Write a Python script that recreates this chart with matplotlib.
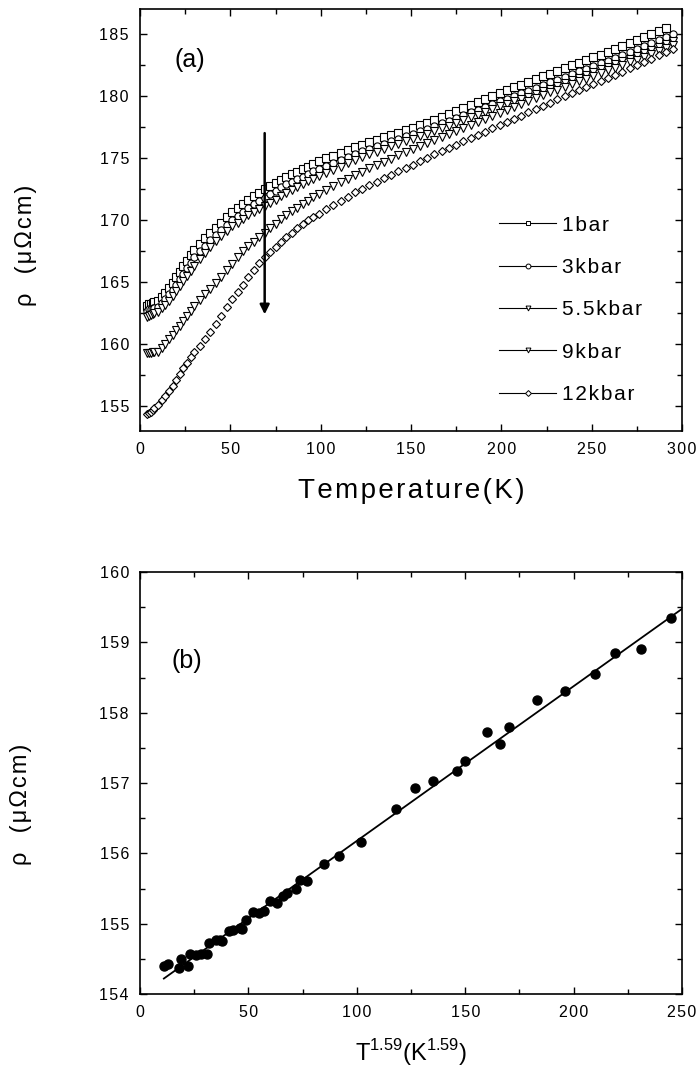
import matplotlib
matplotlib.use('Agg')
import matplotlib.pyplot as plt
from matplotlib.ticker import MultipleLocator, FuncFormatter

plt.rcParams['font.family'] = ['Liberation Sans', 'DejaVu Sans']
plt.rcParams['mathtext.fontset'] = 'custom'
plt.rcParams['mathtext.rm'] = 'Liberation Sans'

# ---- panel (a): resistivity vs temperature at several pressures ----
temps = [4, 5, 6, 7, 8, 10, 12, 14, 16, 18, 20, 22, 24, 26, 28, 30,
         33, 36, 39, 42, 45, 48, 51, 54, 57, 60, 63, 66, 69, 72, 75, 78,
         81, 84, 87, 90, 93, 96, 99, 103, 107, 111, 115, 119, 123, 127,
         131, 135, 139, 143, 147, 151, 155, 159, 163, 167, 171, 175, 179,
         183, 187, 191, 195, 199, 203, 207, 211, 215, 219, 223, 227, 231,
         235, 239, 243, 247, 251, 255, 259, 263, 267, 271, 275, 279, 283,
         287, 291, 295]

rho_1bar = [163.1, 163.2, 163.26, 163.32, 163.38, 163.5, 163.82, 164.14, 164.52,
            164.96, 165.4, 165.84, 166.28, 166.72, 167.16, 167.6, 168.08, 168.54,
            168.96, 169.38, 169.8, 170.22, 170.61, 170.94, 171.27, 171.6, 171.9,
            172.2, 172.5, 172.76, 173.0, 173.24, 173.47, 173.68, 173.89, 174.1,
            174.31, 174.52, 174.73, 174.97, 175.19, 175.4, 175.63, 175.85, 176.05,
            176.25, 176.45, 176.65, 176.85, 177.05, 177.25, 177.45, 177.65, 177.85,
            178.08, 178.32, 178.56, 178.8, 179.04, 179.28, 179.52, 179.76, 180.0,
            180.24, 180.47, 180.69, 180.91, 181.13, 181.35, 181.57, 181.79, 182.0,
            182.22, 182.45, 182.67, 182.89, 183.1, 183.33, 183.55, 183.78, 184.02,
            184.26, 184.5, 184.74, 184.98, 185.2, 185.5]

rho_3kbar = [162.7, 162.8, 162.84, 162.88, 162.92, 163.0, 163.32, 163.64, 164.0,
             164.4, 164.8, 165.24, 165.68, 166.12, 166.56, 167.0, 167.48, 167.94,
             168.36, 168.78, 169.2, 169.62, 170.01, 170.34, 170.67, 171.0, 171.27,
             171.54, 171.81, 172.08, 172.35, 172.62, 172.87, 173.08, 173.29, 173.5,
             173.71, 173.92, 174.13, 174.38, 174.62, 174.86, 175.1, 175.34, 175.55,
             175.75, 175.95, 176.15, 176.35, 176.55, 176.75, 176.95, 177.15, 177.35,
             177.57, 177.79, 178.0, 178.23, 178.45, 178.67, 178.89, 179.1, 179.33,
             179.55, 179.77, 179.99, 180.2, 180.43, 180.65, 180.87, 181.09, 181.3,
             181.53, 181.75, 181.97, 182.19, 182.4, 182.63, 182.85, 183.08, 183.32,
             183.56, 183.8, 184.04, 184.28, 184.52, 184.76, 185.0]

rho_5p5kbar = [162.2, 162.3, 162.36, 162.42, 162.48, 162.6, 162.88, 163.16, 163.5,
               163.9, 164.3, 164.7, 165.1, 165.5, 165.9, 166.3, 166.84, 167.36,
               167.84, 168.28, 168.7, 169.12, 169.5, 169.8, 170.1, 170.4, 170.64,
               170.88, 171.12, 171.38, 171.65, 171.92, 172.18, 172.42, 172.66, 172.9,
               173.11, 173.32, 173.53, 173.8, 174.06, 174.31, 174.57, 174.84, 175.07,
               175.28, 175.5, 175.72, 175.95, 176.15, 176.35, 176.55, 176.75, 176.95,
               177.17, 177.39, 177.6, 177.83, 178.05, 178.27, 178.49, 178.7, 178.93,
               179.15, 179.35, 179.55, 179.75, 179.95, 180.15, 180.37, 180.59, 180.8,
               181.03, 181.25, 181.47, 181.69, 181.9, 182.13, 182.35, 182.57, 182.79,
               183.0, 183.23, 183.45, 183.68, 183.92, 184.16, 184.4]

rho_9kbar = [159.3, 159.3, 159.32, 159.34, 159.36, 159.4, 159.72, 160.04, 160.38,
             160.74, 161.1, 161.5, 161.9, 162.3, 162.7, 163.1, 163.58, 164.04,
             164.46, 164.92, 165.4, 165.94, 166.48, 167.02, 167.48, 167.9, 168.26,
             168.62, 168.98, 169.34, 169.7, 170.06, 170.4, 170.7, 171.0, 171.3,
             171.57, 171.84, 172.11, 172.43, 172.73, 173.03, 173.33, 173.63, 173.9,
             174.16, 174.42, 174.68, 174.94, 175.2, 175.46, 175.72, 175.98, 176.24,
             176.48, 176.72, 176.96, 177.2, 177.44, 177.68, 177.92, 178.16, 178.4,
             178.64, 178.88, 179.12, 179.36, 179.6, 179.84, 180.07, 180.29, 180.51,
             180.73, 180.95, 181.17, 181.39, 181.61, 181.83, 182.05, 182.27, 182.49,
             182.71, 182.93, 183.15, 183.38, 183.62, 183.86, 184.1]

rho_12kbar = [154.4, 154.42, 154.54, 154.68, 154.82, 155.1, 155.46, 155.82, 156.22,
              156.66, 157.1, 157.58, 158.06, 158.52, 158.96, 159.4, 159.88, 160.4,
              161.0, 161.64, 162.3, 162.96, 163.6, 164.2, 164.8, 165.4, 166.0,
              166.56, 167.04, 167.46, 167.85, 168.24, 168.62, 168.98, 169.34, 169.7,
              169.97, 170.24, 170.51, 170.86, 171.2, 171.54, 171.88, 172.22, 172.51,
              172.79, 173.07, 173.35, 173.63, 173.91, 174.19, 174.47, 174.75, 175.03,
              175.3, 175.56, 175.82, 176.08, 176.34, 176.6, 176.86, 177.12, 177.38,
              177.64, 177.9, 178.16, 178.42, 178.68, 178.94, 179.2, 179.46, 179.72,
              179.98, 180.24, 180.48, 180.72, 180.96, 181.2, 181.44, 181.69, 181.95,
              182.21, 182.47, 182.73, 183.0, 183.27, 183.53, 183.8]

labels = ['1bar', '3kbar', '5.5kbar', '9kbar', '12kbar']
markers = ['s', 'o', 'v', 'v', 'D']

# ---- panel (b): 12 kbar low-T data vs T^1.59 ----
t159 = [11, 13, 18, 19, 22, 23, 26, 28, 31, 32, 35, 37, 38, 41, 43, 46, 47, 49,
        52, 55, 57, 60, 63, 66, 68, 72, 74, 77, 85, 92, 102, 118, 127, 135, 146,
        150, 160, 166, 170, 183, 196, 210, 219, 231, 245]
rho_low = [154.40, 154.43, 154.37, 154.50, 154.40, 154.57, 154.55, 154.57, 154.57,
           154.72, 154.77, 154.77, 154.76, 154.90, 154.91, 154.94, 154.92, 155.05,
           155.17, 155.15, 155.18, 155.32, 155.30, 155.40, 155.43, 155.50, 155.62,
           155.60, 155.85, 155.96, 156.16, 156.63, 156.93, 157.03, 157.17, 157.31,
           157.72, 157.55, 157.79, 158.18, 158.31, 158.55, 158.85, 158.90, 159.34]
fit_x = [11, 252]
fit_y = [154.22, 159.52]

HAIR = '\u200a'


def spaced(s, sep=HAIR):
    # the original figure uses wide letter tracking
    return sep.join(s)


tick_fmt = FuncFormatter(lambda v, pos: spaced('%g' % v))


def style_axes(ax):
    ax.tick_params(which='both', direction='in', top=True, right=True,
                   labelsize=11.5, width=1.0, pad=8)
    ax.tick_params(which='major', length=5)
    ax.tick_params(which='minor', length=3.5)
    ax.xaxis.set_major_formatter(tick_fmt)
    ax.yaxis.set_major_formatter(tick_fmt)
    for sp in ax.spines.values():
        sp.set_linewidth(1.2)


fig = plt.figure(figsize=(6.99, 10.73), dpi=100)

ax1 = fig.add_axes([0.2003, 0.5983, 0.7754, 0.3933])
series = [rho_1bar, rho_3kbar, rho_5p5kbar, rho_9kbar, rho_12kbar]
for vals, lab, mk in zip(series, labels, markers):
    ax1.plot(temps[:len(vals)], vals, ls='none', marker=mk, ms=5.2 if mk != 'D' else 4.4,
             mfc='white', mec='black', mew=0.8)
    # legend proxy: thin line with small marker
    ax1.plot([], [], color='black', lw=0.8, marker=mk, ms=3.5 if mk != 'D' else 3,
             mfc='white', mec='black', mew=0.7, label=spaced(lab))

ax1.annotate('', xy=(69, 162.4), xytext=(69, 177.0),
             arrowprops=dict(arrowstyle='-|>', color='black', lw=1.8,
                             mutation_scale=14, shrinkA=0, shrinkB=0))
ax1.set_xlim(0, 300)
ax1.set_ylim(153, 187)
ax1.xaxis.set_major_locator(MultipleLocator(50))
ax1.xaxis.set_minor_locator(MultipleLocator(25))
ax1.yaxis.set_major_locator(MultipleLocator(5))
ax1.yaxis.set_minor_locator(MultipleLocator(2.5))
style_axes(ax1)
ax1.set_xlabel(spaced('Temperature(K)'), fontsize=20, labelpad=15)
ax1.set_ylabel(spaced('ρ  (μΩcm)'), fontsize=17)
ax1.yaxis.set_label_coords(-0.19, 0.44)
ax1.text(0.092, 0.88, '(a)', transform=ax1.transAxes, fontsize=18,
         ha='center', va='center')
ax1.legend(loc='upper left', bbox_to_anchor=(0.647, 0.53), frameon=False,
           fontsize=15, handlelength=2.75, handletextpad=0.25, labelspacing=1.12,
           numpoints=1, borderaxespad=0)

ax2 = fig.add_axes([0.2003, 0.0736, 0.7754, 0.3933])
ax2.plot(t159, rho_low, ls='none', marker='o', ms=6.5, color='black')
ax2.plot(fit_x, fit_y, color='black', lw=1.3)
ax2.set_xlim(0, 250)
ax2.set_ylim(154, 160)
ax2.xaxis.set_major_locator(MultipleLocator(50))
ax2.xaxis.set_minor_locator(MultipleLocator(25))
ax2.yaxis.set_major_locator(MultipleLocator(1))
ax2.yaxis.set_minor_locator(MultipleLocator(0.5))
style_axes(ax2)
ax2.set_xlabel(r'T$^{1.59}$(K$^{1.59}$)', fontsize=17, labelpad=12)
ax2.set_ylabel(spaced('ρ  (μΩcm)'), fontsize=17)
ax2.yaxis.set_label_coords(-0.20, 0.45)
ax2.text(0.087, 0.79, '(b)', transform=ax2.transAxes, fontsize=18,
         ha='center', va='center')

fig.savefig('out.png', dpi=100)
